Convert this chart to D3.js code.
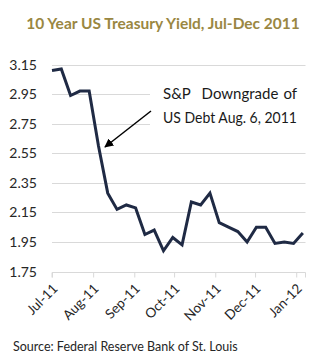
<!DOCTYPE html>
<html><head><meta charset="utf-8">
<script src="https://cdn.jsdelivr.net/npm/d3@7"></script>
<style>body{margin:0;background:#fff}svg{display:block}</style>
</head><body>
<svg id="c" width="332" height="360"></svg>
<script>
const weekDates = ["2011-07-01","2011-07-08","2011-07-15","2011-07-22","2011-07-29","2011-08-05","2011-08-12","2011-08-19","2011-08-26","2011-09-02","2011-09-09","2011-09-16","2011-09-23","2011-09-30","2011-10-07","2011-10-14","2011-10-21","2011-10-28","2011-11-04","2011-11-11","2011-11-18","2011-11-25","2011-12-02","2011-12-09","2011-12-16","2011-12-23","2011-12-30","2012-01-06"];
const yields = [3.11,3.12,2.94,2.97,2.97,2.60,2.28,2.17,2.20,2.18,2.00,2.03,1.89,1.98,1.93,2.22,2.20,2.28,2.08,2.05,2.02,1.95,2.05,2.05,1.94,1.95,1.94,2.01];
const yTicks = [1.75,1.95,2.15,2.35,2.55,2.75,2.95,3.15];
const xTickDates = ["2011-07-01","2011-08-01","2011-09-01","2011-10-01","2011-11-01","2011-12-01","2012-01-01"];
const xTickLabels = ["Jul-11","Aug-11","Sep-11","Oct-11","Nov-11","Dec-11","Jan-12"];
const title = "10 Year US Treasury Yield, Jul-Dec 2011";
const source = "Source: Federal Reserve Bank of St. Louis";
const noteWords = ["S&P","Downgrade","of"];
const noteLine2 = "US Debt Aug. 6, 2011";

const parse = d3.utcParse("%Y-%m-%d");
const data = weekDates.map((d,i)=>({date:parse(d), v:yields[i]}));
const svg = d3.select("#c");
const font = "Lato, 'Open Sans', sans-serif";

const x = d3.scaleUtc().domain([parse("2011-07-01"), parse("2012-01-08")]).range([52,305.5]);
const y = d3.scaleLinear().domain([1.75,3.15]).range([271.5,64.5]);

svg.append("text").attr("x",163).attr("y",29).attr("text-anchor","middle")
  .attr("font-family",font).attr("font-weight","bold").attr("font-size",15.5)
  .attr("fill","#9a8742").text(title);

// gridlines
svg.append("g").selectAll("line").data(yTicks.slice(1)).join("line")
  .attr("x1",52).attr("x2",305.5).attr("y1",d=>Math.round(y(d))+0.5).attr("y2",d=>Math.round(y(d))+0.5)
  .attr("stroke","#d9d9d9").attr("stroke-width",1);

// y labels
svg.append("g").selectAll("text").data(yTicks).join("text")
  .attr("x",37).attr("y",d=>y(d)+5).attr("text-anchor","end")
  .attr("font-family",font).attr("font-size",14).attr("fill","#262626")
  .text(d=>d.toFixed(2));

// x axis
const xa = d3.axisBottom(x).tickValues(xTickDates.map(parse)).tickSize(5).tickFormat((d,i)=>xTickLabels[i]);
const gx = svg.append("g").attr("transform",`translate(0,${Math.round(y(1.75))+0.5})`).call(xa);
gx.select(".domain").attr("stroke","#d9d9d9").attr("d","M52,5V0H305.5V5");
gx.selectAll(".tick line").attr("stroke","#d9d9d9");
gx.selectAll(".tick text").attr("font-family",font).attr("font-size",13.5).attr("fill","#262626")
  .attr("text-anchor","end").attr("dy",0).attr("y",0)
  .attr("transform","translate(6,17) rotate(-45)");

// annotation background
svg.append("rect").attr("x",150).attr("y",78).attr("width",160).attr("height",55).attr("fill","#fff");

// line
svg.append("path").datum(data).attr("fill","none").attr("stroke","#1f2a44").attr("stroke-width",3)
  .attr("stroke-linejoin","miter")
  .attr("d",d3.line().x(d=>x(d.date)).y(d=>y(d.v)));

// annotation text
const ng = svg.append("g").attr("font-family",font).attr("font-size",15).attr("fill","#1a1a1a");
ng.append("text").attr("x",163).attr("y",99).text(noteWords[0]);
ng.append("text").attr("x",240).attr("y",99).attr("text-anchor","middle").text(noteWords[1]);
ng.append("text").attr("x",297).attr("y",99).attr("text-anchor","end").text(noteWords[2]);
ng.append("text").attr("x",163).attr("y",123).attr("textLength",134).attr("lengthAdjust","spacingAndGlyphs").text(noteLine2);

// arrow
svg.append("defs").append("marker").attr("id","ah").attr("viewBox","0 0 10 10").attr("refX",9).attr("refY",5)
  .attr("markerWidth",6).attr("markerHeight",6).attr("orient","auto")
  .append("path").attr("d","M0,0L10,5L0,10z").attr("fill","#000");
svg.append("line").attr("x1",151).attr("y1",111).attr("x2",105).attr("y2",147)
  .attr("stroke","#000").attr("stroke-width",1.5).attr("marker-end","url(#ah)");

svg.append("text").attr("x",13).attr("y",351).attr("font-family",font).attr("font-size",12.5)
  .attr("fill","#262626").text(source);
</script>
</body></html>
